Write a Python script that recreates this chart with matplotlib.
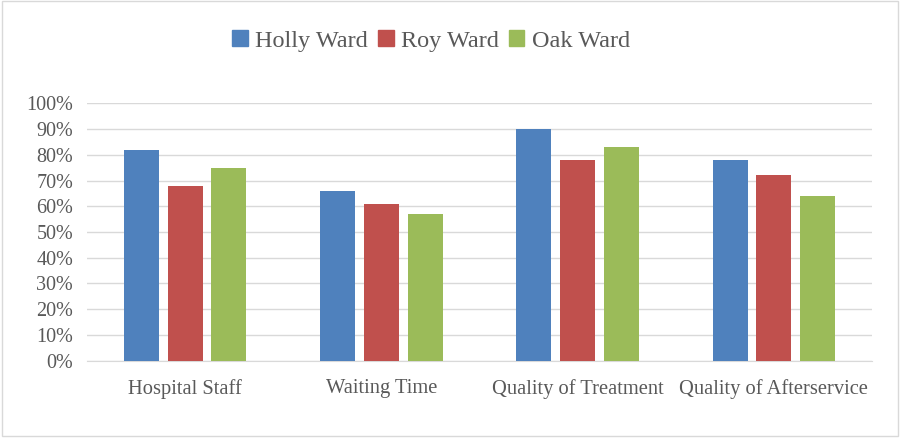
import matplotlib.pyplot as plt
import matplotlib.patches as mpatches
import numpy as np

categories = ["Hospital Staff", "Waiting Time", "Quality of Treatment", "Quality of Afterservice"]
holly = [82, 66, 90, 78]
roy = [68, 61, 78, 72]
oak = [75, 57, 83, 64]
series = ["Holly Ward", "Roy Ward", "Oak Ward"]
colors = ["#4F81BD", "#C0504D", "#9BBB59"]

plt.rcParams['font.family'] = ['Liberation Serif', 'DejaVu Serif']
txt = "#595959"

fig = plt.figure(figsize=(9, 4.41), dpi=100)
ax = fig.add_axes([87/900, 1 - 360.7/441, (872 - 87)/900, (360.7 - 103.3)/441])

x = np.arange(len(categories))
w = 0.178
step = 0.223
for i, (vals, name, c) in enumerate(zip([holly, roy, oak], series, colors)):
    ax.bar(x + (i - 1) * step, vals, width=w, color=c, label=name, zorder=3)

ax.set_xlim(-0.5, len(categories) - 0.5)
ax.set_ylim(0, 100)
ax.set_yticks(range(0, 101, 10))
ax.set_yticklabels([f"{v}%" for v in range(0, 101, 10)])
ax.set_xticks(x)
ax.set_xticklabels(categories)
ax.grid(axis='y', color="#D9D9D9", linewidth=1, zorder=0)
for s in ["top", "right", "left"]:
    ax.spines[s].set_visible(False)
ax.spines["bottom"].set_color("#D9D9D9")
ax.tick_params(axis='both', length=0, colors=txt)
ax.tick_params(axis='x', pad=13, labelsize=14.8)
ax.tick_params(axis='y', pad=10, labelsize=14.5)

handles = [mpatches.Patch(color=c, label=n) for c, n in zip(colors, series)]
fig.legend(handles=handles, loc='center', bbox_to_anchor=(431/900, 1 - 41/441), ncol=3,
           frameon=False, fontsize=17.5, handlelength=0.65, handleheight=0.65,
           handletextpad=0.3, columnspacing=0.4, labelcolor=txt)

fig.patches.append(mpatches.Rectangle((0.002, 0.012), 0.996, 0.985, transform=fig.transFigure,
                                      fill=False, edgecolor="#D9D9D9", linewidth=1))

fig.savefig("out.png", dpi=100)
